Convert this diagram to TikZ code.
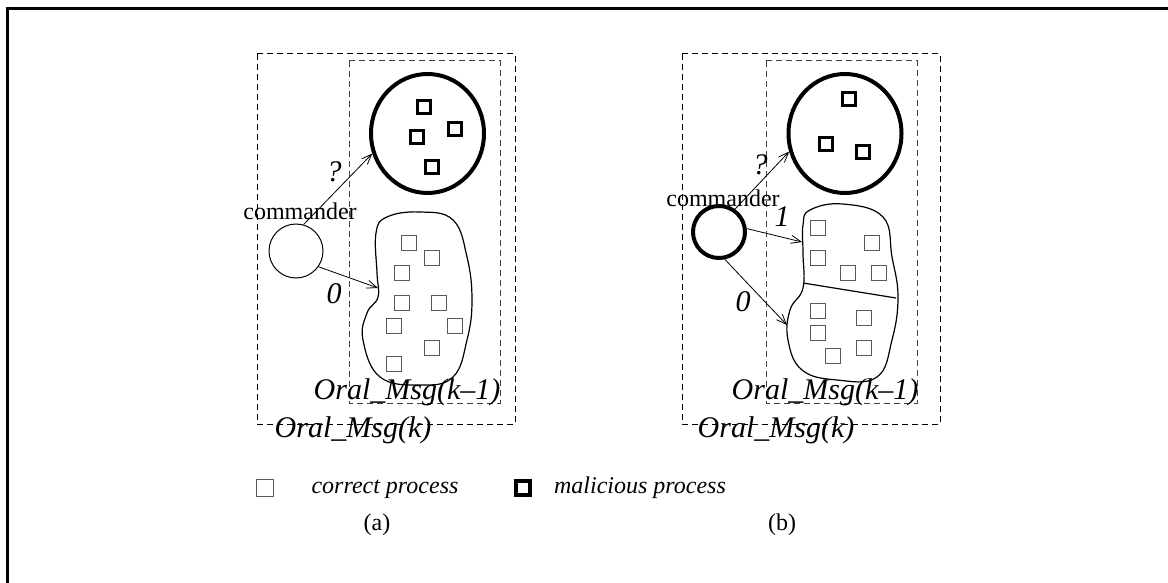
\documentclass[tikz,border=0pt]{standalone}
\usepackage{fontspec}
\setmainfont{Liberation Serif}
\usetikzlibrary{positioning,arrows.meta,shapes.geometric}

\begin{document}
\begin{tikzpicture}[
  x=0.5pt, y=-0.5pt,
  >={Straight Barb[length=5pt,width=4pt]},
  good/.style={draw=black!65, line width=0.5pt, minimum size=7.5pt, inner sep=0pt},
  bad/.style={draw, line width=1.5pt, minimum size=6.3pt, inner sep=0pt},
  cmd/.style={draw, circle, line width=0.5pt, minimum size=27pt, inner sep=0pt},
  group/.style={draw, ellipse, line width=2pt, minimum width=56.5pt, minimum height=59.5pt, inner sep=0pt},
  dashbox/.style={draw, dash pattern=on 3pt off 2pt, line width=0.5pt},
  blob/.style={draw, line width=0.6pt},
  msg/.style={font=\fontsize{15}{18}\selectfont\itshape, anchor=base},
  txt/.style={font=\fontsize{12}{14}\selectfont, anchor=base}
]
\useasboundingbox (0,0) rectangle (1168,583);
\draw[line width=1.6pt] (7.5,583) -- (7.5,8.3) -- (1168,8.3);

% (a)
\draw[dashbox] (257,54) rectangle (515,424);
\draw[dashbox, draw=black!75] (349,61) rectangle (500,403);

\node[group] (malA) at (427.5,133.5) {};
\node[bad] (ma1) at (424,107) {};
\node[bad] (ma2) at (455,129) {};
\node[bad] (ma3) at (417,137) {};
\node[bad] (ma4) at (432,167) {};

\node[cmd] (cmdA) at (296,251) {};
\node[txt] (cmdAlab) at (300,220) {commander};

\draw[blob] plot[smooth cycle, tension=0.7] coordinates {
  (420,212) (453,220) (467,257) (472,300) (467,340) (453,377) (420,385)
  (380,377) (363,340) (367,313) (378,297) (377,273) (376,233) (387,217)};
\coordinate (inA) at (378,288);
\node[good] (ca1) at (409,243) {};
\node[good] (ca2) at (432,258) {};
\node[good] (ca3) at (402,273) {};
\node[good] (ca4) at (402,303) {};
\node[good] (ca5) at (439,303) {};
\node[good] (ca6) at (394,326) {};
\node[good] (ca7) at (455,326) {};
\node[good] (ca8) at (432,348) {};
\node[good] (ca9) at (394,364) {};

\draw[->] (cmdA.74) -- (malA.200);
\draw[->] (cmdA.-35) -- (inA);
\node[msg] (qA) at (334,182) {?};
\node[msg] (zA) at (334,303) {0};

\node[msg] (subA) at (407,399) {Oral\_Msg(k--1)};
\node[msg] (topA) at (353,437) {Oral\_Msg(k)};

% (b)
\draw[dashbox] (682,54) rectangle (940,424);
\draw[dashbox, draw=black!75] (766,61) rectangle (917,403);

\node[group] (malB) at (845,133.5) {};
\node[bad] (mb1) at (849,99) {};
\node[bad] (mb2) at (826,144) {};
\node[bad] (mb3) at (863,152) {};

\node[cmd, line width=2pt, minimum size=26pt] (cmdB) at (719,232) {};
\node[txt] (cmdBlab) at (723,206) {commander};

\draw[blob] plot[smooth cycle, tension=0.7] coordinates {
  (843,204) (883,217) (892,257) (898,297) (892,340) (877,377) (837,380)
  (802,370) (788,340) (790,310) (803,288) (803,253) (803,225) (810,210)};
\coordinate (divL) at (803,283);
\coordinate (divR) at (896,298);
\draw[blob] (divL) -- (divR);
\coordinate (inB1) at (802,242);
\coordinate (inB0) at (787,325);
\node[good] (cb1) at (818,228) {};
\node[good] (cb2) at (872,243) {};
\node[good] (cb3) at (818,258) {};
\node[good] (cb4) at (848,273) {};
\node[good] (cb5) at (879,273) {};
\node[good] (cb6) at (818,311) {};
\node[good] (cb7) at (864,318) {};
\node[good] (cb8) at (818,333) {};
\node[good] (cb9) at (864,348) {};
\node[good] (cb10) at (833,356) {};

\draw[->] (cmdB.55) -- (malB.198);
\draw[->] (cmdB.7) -- (inB1);
\draw[->] (cmdB.-78) -- (inB0);
\node[msg] (qB) at (760,175) {?};
\node[msg] (oB) at (782,227) {1};
\node[msg] (zB) at (743,311) {0};

\node[msg] (subB) at (825,399) {Oral\_Msg(k--1)};
\node[msg] (topB) at (776,437) {Oral\_Msg(k)};

% legend
\node[good, minimum size=8.5pt] (keyGood) at (265,488) {};
\node[txt, font=\fontsize{12}{14}\selectfont\itshape] (keyGoodLab) at (385,493) {correct process};
\node[bad, minimum size=7pt, line width=1.7pt] (keyBad) at (523,488) {};
\node[txt, font=\fontsize{12}{14}\selectfont\itshape] (keyBadLab) at (640,493) {malicious process};

\node[txt] (capA) at (377,530) {(a)};
\node[txt] (capB) at (782,530) {(b)};
\end{tikzpicture}
\end{document}
